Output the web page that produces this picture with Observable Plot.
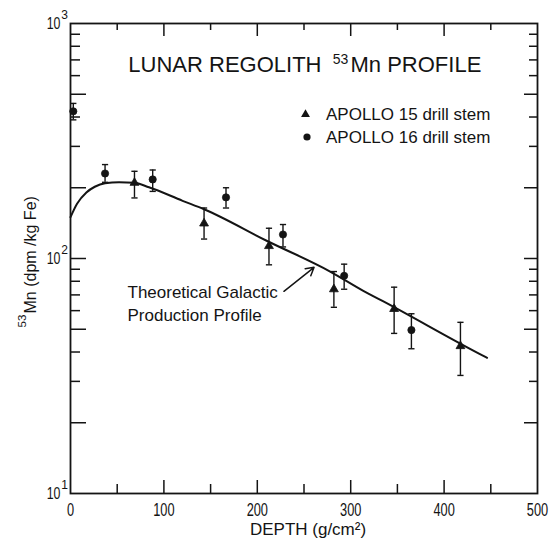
<!DOCTYPE html>
<html><head><meta charset="utf-8">
<script src="https://cdn.jsdelivr.net/npm/d3@7"></script>
<script src="https://cdn.jsdelivr.net/npm/@observablehq/plot@0.6"></script>
<style>body{margin:0;background:#fff;} svg{display:block;}</style>
</head><body><div id="chart"></div>
<script>
// ---- data ----
const a15Depth = [68.5, 143, 212.5, 282, 346.5, 417.5];
const a15Mn    = [210, 141, 113, 74, 61, 42.4];
const a15Lo    = [181, 121, 94, 62, 48, 31.8];
const a15Hi    = [235, 164, 134.5, 88, 75.5, 53.5];

const a16Depth = [3, 37, 88, 166.5, 227.5, 293, 365];
const a16Mn    = [423, 230, 217, 182, 126.5, 84.4, 49.6];
const a16Lo    = [389, 211, 193, 164, 112, 74, 41.3];
const a16Hi    = [457, 251, 238, 200, 139.5, 94.6, 58.2];

const curveDepth = [0, 7, 17, 26, 37, 52, 68, 84, 120, 143, 210, 278, 313, 334, 441, 446];
const curveMn    = [150, 171, 191, 202, 209, 211, 210, 201, 176, 162, 119, 88, 73, 66, 38.7, 37.8];

const arrowLink = [{fromDepth: 228.5, fromMn: 72.5, toDepth: 260.8, toMn: 91.7}];

const xTickLabels = [0, 100, 200, 300, 400, 500];
const xMajorTicks = [100, 200, 300, 400];
const xMinorTicks = [50, 150, 250, 350, 450];
const yTickLabels = [10, 100, 1000];
const yLongTicks  = [20, 50, 100, 200, 500];
const yShortTicks = [30, 40, 60, 70, 80, 90, 300, 400, 600, 700, 800, 900];

const titleA = "LUNAR REGOLITH";
const titleSup = "53";
const titleB = "Mn PROFILE";
const legendA15 = "APOLLO 15 drill stem";
const legendA16 = "APOLLO 16 drill stem";
const noteLines = ["Theoretical Galactic", "Production Profile"];
const xLabel = "DEPTH (g/cm\u00B2)";
const yLabelSup = "53";
const yLabel = "Mn (dpm /kg Fe)";

// ---- tables ----
const a15 = a15Depth.map((d, i) => ({depth: d, mn: a15Mn[i], lo: a15Lo[i], hi: a15Hi[i]}));
const a16 = a16Depth.map((d, i) => ({depth: d, mn: a16Mn[i], lo: a16Lo[i], hi: a16Hi[i]}));
const pts = a15.concat(a16);
const curve = curveDepth.map((d, i) => ({depth: d, mn: curveMn[i]}));

const W = 555, H = 546, mL = 70, mR = 18, mT = 23, mB = 53;
const FW = W - mL - mR, FH = H - mT - mB;
const ink = "#141414";
const font = "'Liberation Sans', Arial, sans-serif";

const capSymbol = {draw(ctx, size) { const w = Math.sqrt(size); ctx.moveTo(-w, 0); ctx.lineTo(w, 0); }};
const T = {lineAnchor: "middle", fill: ink};

const svg = Plot.plot({
  width: W, height: H,
  marginLeft: mL, marginRight: mR, marginTop: mT, marginBottom: mB,
  style: {background: "#fff", fontFamily: font, color: ink},
  x: {domain: [0, 500]},
  y: {type: "log", domain: [10, 1000]},
  marks: [
    // tick labels
    Plot.axisX(xTickLabels, {tickSize: 0, tickPadding: 10, fontSize: 17.5, label: null, fill: ink}),
    Plot.axisY(yTickLabels, {tickSize: 0, tickPadding: 10, fontSize: 16.5, label: null, fill: ink,
      tickFormat: () => "10"}),
    Plot.text(yTickLabels, {y: d => d, text: d => String(Math.round(Math.log10(d))), frameAnchor: "left",
      textAnchor: "middle", dx: -6, dy: -8, fontSize: 12, ...T}),
    // inward ticks
    Plot.ruleX(xMajorTicks, {insetTop: FH - 13, stroke: ink, strokeWidth: 1.5}),
    Plot.ruleX(xMinorTicks, {insetTop: FH - 9, stroke: ink, strokeWidth: 1.5}),
    Plot.ruleX(xMajorTicks, {insetBottom: FH - 13, stroke: ink, strokeWidth: 1.5}),
    Plot.ruleX(xMinorTicks, {insetBottom: FH - 7, stroke: ink, strokeWidth: 1.5}),
    Plot.ruleY(yLongTicks, {insetRight: FW - 16, stroke: ink, strokeWidth: 1.5}),
    Plot.ruleY(yShortTicks, {insetRight: FW - 10, stroke: ink, strokeWidth: 1.5}),
    Plot.ruleY(yLongTicks, {insetLeft: FW - 13, stroke: ink, strokeWidth: 1.5}),
    Plot.ruleY(yShortTicks, {insetLeft: FW - 8, stroke: ink, strokeWidth: 1.5}),
    Plot.frame({stroke: ink, strokeWidth: 1.8}),
    // theoretical curve
    Plot.line(curve, {x: "depth", y: "mn", curve: "monotone-x", stroke: ink, strokeWidth: 2}),
    // error bars
    Plot.ruleX(pts, {x: "depth", y1: "lo", y2: "hi", stroke: ink, strokeWidth: 1.4}),
    Plot.dot(pts, {x: "depth", y: "lo", symbol: capSymbol, r: 1.75, stroke: ink, strokeWidth: 1.4, fill: "none"}),
    Plot.dot(pts, {x: "depth", y: "hi", symbol: capSymbol, r: 1.75, stroke: ink, strokeWidth: 1.4, fill: "none"}),
    // data symbols
    Plot.dot(a15, {x: "depth", y: "mn", symbol: "triangle", r: 3.3, fill: ink, stroke: ink, strokeWidth: 0.8}),
    Plot.dot(a16, {x: "depth", y: "mn", symbol: "circle", r: 3.6, fill: ink, stroke: ink, strokeWidth: 0.8}),
    // annotation arrow and text
    Plot.arrow(arrowLink, {x1: "fromDepth", y1: "fromMn", x2: "toDepth", y2: "toMn", stroke: ink, strokeWidth: 1.5, headLength: 9}),
    Plot.text([noteLines[0]], {frameAnchor: "top-left", dx: 57, dy: 269, textAnchor: "start", fontSize: 17, ...T}),
    Plot.text([noteLines[1]], {frameAnchor: "top-left", dx: 57, dy: 292.5, textAnchor: "start", fontSize: 17, ...T}),
    // title
    Plot.text([titleA], {frameAnchor: "top-left", dx: 251, dy: 41, textAnchor: "end", fontSize: 22, ariaLabel: "title-part", ...T}),
    Plot.text([titleSup], {frameAnchor: "top-left", dx: 270, dy: 36, textAnchor: "middle", fontSize: 14, ...T}),
    Plot.text([titleB], {frameAnchor: "top-left", dx: 280, dy: 41, textAnchor: "start", fontSize: 22, ariaLabel: "title-part", ...T}),
    // legend
    Plot.dot([0], {frameAnchor: "top-left", dx: 235, dy: 91, symbol: "triangle", r: 3.3, fill: ink}),
    Plot.dot([0], {frameAnchor: "top-left", dx: 236.5, dy: 113.5, symbol: "circle", r: 3.6, fill: ink}),
    Plot.text([legendA15], {frameAnchor: "top-left", dx: 255.5, dy: 90.7, textAnchor: "start", fontSize: 17, ...T}),
    Plot.text([legendA16], {frameAnchor: "top-left", dx: 255.5, dy: 114, textAnchor: "start", fontSize: 17, ...T}),
    // axis labels
    Plot.text([xLabel], {frameAnchor: "bottom", dx: 4, dy: 36, textAnchor: "middle", fontSize: 17, ...T}),
    Plot.text([yLabel], {frameAnchor: "left", rotate: -90, textAnchor: "start", dx: -40, dy: 55, fontSize: 16, ...T}),
    Plot.text([yLabelSup], {frameAnchor: "left", rotate: -90, textAnchor: "middle", dx: -48, dy: 62.5, fontSize: 11.5, ...T})
  ]
});

function squeeze(label, sx) {
  svg.querySelectorAll(`g[aria-label="${label}"] text`).forEach(t => {
    const tr = t.getAttribute("transform") || "";
    t.setAttribute("transform", tr + ` scale(${sx},1)`);
  });
}
squeeze("x-axis tick label", 0.73);
squeeze("y-axis tick label", 0.75);
squeeze("title-part", 0.875);

document.getElementById("chart").appendChild(svg);
</script>
</body></html>
